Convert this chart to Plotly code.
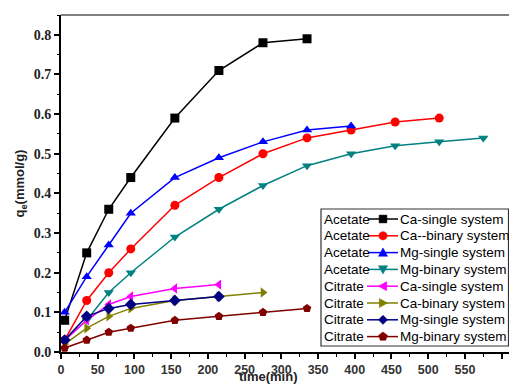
import math
import plotly.graph_objects as go

# ---- data ----
t_ca_single_ac = [5, 35, 65, 95, 155, 215, 275, 335]
q_ca_single_ac = [0.08, 0.25, 0.36, 0.44, 0.59, 0.71, 0.78, 0.79]

t_ca_binary_ac = [5, 35, 65, 95, 155, 215, 275, 335, 395, 455, 515]
q_ca_binary_ac = [0.03, 0.13, 0.20, 0.26, 0.37, 0.44, 0.50, 0.54, 0.56, 0.58, 0.59]

t_mg_single_ac = [5, 35, 65, 95, 155, 215, 275, 335, 395]
q_mg_single_ac = [0.10, 0.19, 0.27, 0.35, 0.44, 0.49, 0.53, 0.56, 0.57]

t_mg_binary_ac = [5, 35, 65, 95, 155, 215, 275, 335, 395, 455, 515, 575]
q_mg_binary_ac = [0.03, 0.08, 0.15, 0.20, 0.29, 0.36, 0.42, 0.47, 0.50, 0.52, 0.53, 0.54]

t_ca_single_ci = [5, 35, 65, 95, 155, 215]
q_ca_single_ci = [0.03, 0.08, 0.12, 0.14, 0.16, 0.17]

t_ca_binary_ci = [5, 35, 65, 95, 155, 215, 275]
q_ca_binary_ci = [0.02, 0.06, 0.09, 0.11, 0.13, 0.14, 0.15]

t_mg_single_ci = [5, 35, 65, 95, 155, 215]
q_mg_single_ci = [0.03, 0.09, 0.11, 0.12, 0.13, 0.14]

t_mg_binary_ci = [5, 35, 65, 95, 155, 215, 275, 335]
q_mg_binary_ci = [0.01, 0.03, 0.05, 0.06, 0.08, 0.09, 0.10, 0.11]

prefixes = ["Acetate", "Acetate", "Acetate", "Acetate", "Citrate", "Citrate", "Citrate", "Citrate"]
names = ["Ca-single system", "Ca--binary system", "Mg-single system", "Mg-binary system",
         "Ca-single system", "Ca-binary system", "Mg-single system", "Mg-binary system"]
x_ticks = [0, 50, 100, 150, 200, 250, 300, 350, 400, 450, 500, 550, 600]
y_ticks = [0.0, 0.1, 0.2, 0.3, 0.4, 0.5, 0.6, 0.7, 0.8]

series = [
    (t_ca_single_ac, q_ca_single_ac, "#000000", "square"),
    (t_ca_binary_ac, q_ca_binary_ac, "#ff0000", "circle"),
    (t_mg_single_ac, q_mg_single_ac, "#0000ff", "triangle-up"),
    (t_mg_binary_ac, q_mg_binary_ac, "#008080", "triangle-down"),
    (t_ca_single_ci, q_ca_single_ci, "#ff00ff", "triangle-left"),
    (t_ca_binary_ci, q_ca_binary_ci, "#808000", "triangle-right"),
    (t_mg_single_ci, q_mg_single_ci, "#000080", "diamond"),
    (t_mg_binary_ci, q_mg_binary_ci, "#800000", "pentagon"),
]

W, H = 509, 385
L, R, T, B = 61, 0, 15, 33
pw, ph = W - L - R, H - T - B


def px2x(px):
    return (px - L) / pw


def py2y(py):
    return (H - B - py) / ph


def glyph_path(sym, cx, cy, r=4.6):
    # polygon in screen pixels -> paper coords path
    if sym == "square":
        pts = [(-r * 0.85, -r * 0.85), (r * 0.85, -r * 0.85), (r * 0.85, r * 0.85), (-r * 0.85, r * 0.85)]
    elif sym == "triangle-up":
        pts = [(0, -r), (r, r * 0.8), (-r, r * 0.8)]
    elif sym == "triangle-down":
        pts = [(0, r), (r, -r * 0.8), (-r, -r * 0.8)]
    elif sym == "triangle-left":
        pts = [(-r, 0), (r * 0.8, -r), (r * 0.8, r)]
    elif sym == "triangle-right":
        pts = [(r, 0), (-r * 0.8, -r), (-r * 0.8, r)]
    elif sym == "diamond":
        pts = [(0, -r), (r, 0), (0, r), (-r, 0)]
    elif sym == "pentagon":
        pts = [(r * math.cos(math.radians(-90 + 72 * k)), r * math.sin(math.radians(-90 + 72 * k)))
               for k in range(5)]
    else:
        n = 20
        pts = [(r * 0.9 * math.cos(2 * math.pi * k / n), r * 0.9 * math.sin(2 * math.pi * k / n))
               for k in range(n)]
    segs = ["%s%.5f,%.5f" % ("M" if i == 0 else "L", px2x(cx + dx), py2y(cy + dy))
            for i, (dx, dy) in enumerate(pts)]
    return " ".join(segs) + " Z"


fig = go.Figure()
for (x, y, c, sym), nm in zip(series, names):
    fig.add_trace(go.Scatter(
        x=x, y=y, name=nm, mode="lines+markers", showlegend=False,
        line=dict(color=c, width=1.5),
        marker=dict(color=c, symbol=sym, size=9),
    ))

# legend frame
fig.add_shape(type="rect", xref="paper", yref="paper",
              x0=px2x(321), x1=px2x(508.5), y0=py2y(346), y1=py2y(209),
              line=dict(color="#333333", width=1.2), fillcolor="white", layer="above")
# top border
fig.add_shape(type="line", xref="paper", yref="paper",
              x0=0, x1=1, y0=1, y1=1, line=dict(color="#808080", width=2), layer="above")

font_leg = dict(family="Liberation Sans, Arial", size=13.5, color="black")
row0, drow = 219, 16.8
for i, (p, nm, s) in enumerate(zip(prefixes, names, series)):
    cy = row0 + i * drow
    c, sym = s[2], s[3]
    fig.add_annotation(text=p, xref="paper", yref="paper",
                       x=px2x(322), y=py2y(cy), xanchor="left", yanchor="middle",
                       showarrow=False, font=font_leg)
    fig.add_shape(type="line", xref="paper", yref="paper",
                  x0=px2x(368 if i < 4 else 367), x1=px2x(398), y0=py2y(cy), y1=py2y(cy),
                  line=dict(color=c, width=1.5), layer="above")
    fig.add_shape(type="path", xref="paper", yref="paper", path=glyph_path(sym, 383, cy),
                  line=dict(color=c, width=0.5), fillcolor=c, layer="above")
    fig.add_annotation(text=nm, xref="paper", yref="paper",
                       x=px2x(398), y=py2y(cy), xanchor="left", yanchor="middle",
                       showarrow=False, font=font_leg)

# x axis title
fig.add_annotation(text="<b>time(min)</b>", xref="paper", yref="paper",
                   x=px2x(268), y=py2y(385), xanchor="center", yanchor="bottom", showarrow=False,
                   borderpad=0,
                   font=dict(family="Liberation Sans, Arial", size=13, color="#222222"))

fig.update_layout(
    width=W, height=H,
    margin=dict(l=L, r=R, t=T, b=B),
    paper_bgcolor="white", plot_bgcolor="white",
    showlegend=False,
    xaxis=dict(range=[0, 610], tickvals=x_ticks, ticktext=["<b>%d</b>" % v for v in x_ticks],
               ticks="outside", ticklen=5, tickwidth=1.5,
               tickcolor="black", showline=True, linecolor="black", linewidth=2,
               showgrid=False, zeroline=False,
               minor=dict(dtick=25, ticks="outside", ticklen=3, tickwidth=1, tickcolor="black"),
               tickfont=dict(family="Liberation Sans, Arial", size=12.5, color="#333333")),
    yaxis=dict(range=[0, 0.85], tickvals=y_ticks, ticktext=["<b>%.1f</b>" % v for v in y_ticks],
               ticks="outside", ticklen=5, tickwidth=1.5,
               tickcolor="black", showline=True, linecolor="black", linewidth=2,
               showgrid=False, zeroline=False,
               minor=dict(dtick=0.05, ticks="outside", ticklen=2, tickwidth=1, tickcolor="black"),
               tickfont=dict(family="Liberation Serif, Times New Roman", size=14, color="#222222"),
               title=dict(text="<b>q<sub>e</sub>(mmol/g)</b>", standoff=6,
                          font=dict(family="Liberation Sans, Arial", size=13, color="#222222"))),
)

fig.write_html("out.html")
